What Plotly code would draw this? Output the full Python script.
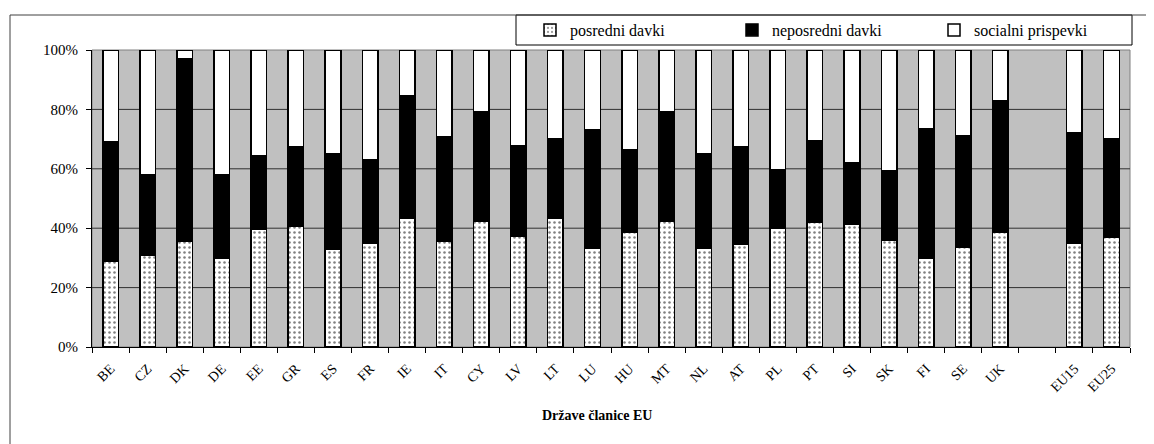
import plotly.graph_objects as go

countries = ["BE", "CZ", "DK", "DE", "EE", "GR", "ES", "FR", "IE", "IT", "CY", "LV", "LT",
             "LU", "HU", "MT", "NL", "AT", "PL", "PT", "SI", "SK", "FI", "SE", "UK", " ", "EU15", "EU25"]

posredni = [29, 31, 35.5, 30, 39.5, 40.5, 33, 35, 43.3, 35.6, 42.4, 37.4, 43.3,
            33.2, 38.6, 42.4, 33.2, 34.7, 39.9, 42, 41.5, 36, 30, 33.5, 38.5, None, 35, 37]
neposredni = [40, 27, 61.5, 28, 25, 27, 32, 28, 41.2, 35.2, 36.7, 30.5, 26.9,
              40.1, 27.7, 36.7, 32, 32.6, 19.7, 27.5, 20.5, 23.5, 43.5, 37.5, 44.5, None, 37, 33]
socialni = [31, 42, 3, 42, 35.5, 32.5, 35, 37, 15.5, 29.2, 20.9, 32.1, 29.8,
            26.7, 33.7, 20.9, 34.8, 32.7, 40.4, 30.5, 38, 40.5, 26.5, 29, 17, None, 28, 30]

series_names = ["posredni davki", "neposredni davki", "socialni prispevki"]
y_ticks = [0, 20, 40, 60, 80, 100]
y_ticklabels = ["0%", "20%", "40%", "60%", "80%", "100%"]

FONT = "Liberation Serif"

# page layout (the page body has an 8px margin)
OFF = 8
FIG_W, FIG_H = 1154 - OFF, 444 - OFF
PL, PR, PT, PB = 92, 1130, 50, 347  # plot area in page pixels


def px(x):
    return (x - PL) / (PR - PL)


def py(y):
    return (PB - y) / (PB - PT)


BAR_W = 0.42

fig = go.Figure()
fig.add_trace(go.Bar(
    x=countries, y=posredni, name=series_names[0], width=BAR_W,
    marker=dict(color="white", line=dict(color="black", width=1.5),
                pattern=dict(shape=".", fgcolor="black", bgcolor="white", size=5, solidity=0.2)),
))
fig.add_trace(go.Bar(
    x=countries, y=neposredni, name=series_names[1], width=BAR_W,
    marker=dict(color="black", line=dict(color="black", width=1.5)),
))
fig.add_trace(go.Bar(
    x=countries, y=socialni, name=series_names[2], width=BAR_W,
    marker=dict(color="white", line=dict(color="black", width=1.5)),
))

grid_shapes = [
    dict(type="line", xref="paper", yref="y", x0=0, x1=1, y0=v, y1=v,
         line=dict(color="#303030", width=1), layer="below")
    for v in y_ticks[1:-1]
]

fig.update_layout(
    barmode="stack",
    width=FIG_W, height=FIG_H,
    margin=dict(l=PL - OFF, r=FIG_W - (PR - OFF), t=PT - OFF, b=FIG_H - (PB - OFF), autoexpand=False),
    paper_bgcolor="white",
    plot_bgcolor="#c0c0c0",
    font=dict(family=FONT, color="black", size=13),
    showlegend=True,
    legend=dict(
        orientation="h", x=px(530), y=py(30), xanchor="left", yanchor="middle",
        borderwidth=0, bgcolor="rgba(0,0,0,0)",
        font=dict(family=FONT, size=16),
        entrywidth=157, itemwidth=30, traceorder="normal",
    ),
    xaxis=dict(
        type="category", categoryorder="array", categoryarray=countries,
        tickangle=-45, tickfont=dict(family=FONT, size=14), ticklabelstandoff=7,
        ticks="outside", ticklen=5, tickcolor="black", tickson="boundaries",
        showline=True, linecolor="black", linewidth=1,
        showgrid=False, range=[-0.5, len(countries) - 0.5],
    ),
    yaxis=dict(
        range=[0, 100], tickmode="array", tickvals=y_ticks, ticktext=y_ticklabels,
        tickfont=dict(family=FONT, size=15), ticklabelstandoff=5,
        ticks="outside", ticklen=5, tickcolor="black",
        showline=True, linecolor="black", linewidth=1,
        showgrid=False, zeroline=False,
    ),
    annotations=[dict(
        text="<b>Države članice EU</b>", xref="paper", yref="paper",
        x=px(597), y=py(415), xanchor="center", yanchor="middle", showarrow=False,
        font=dict(family=FONT, size=14),
    )],
    shapes=[
        dict(type="rect", xref="paper", yref="paper", x0=0, x1=1, y0=0, y1=1,
             line=dict(color="#808080", width=1), layer="below"),
        dict(type="line", xref="paper", yref="paper",
             x0=px(10), x1=px(1160), y0=py(15), y1=py(15),
             line=dict(color="#404040", width=1)),
        dict(type="line", xref="paper", yref="paper",
             x0=px(10), x1=px(10), y0=py(460), y1=py(15),
             line=dict(color="#404040", width=1)),
        dict(type="rect", xref="paper", yref="paper",
             x0=px(516), x1=px(1132), y0=py(45), y1=py(15),
             line=dict(color="black", width=1), fillcolor="white", layer="below"),
    ] + grid_shapes,
)

fig.write_html("out.html")
